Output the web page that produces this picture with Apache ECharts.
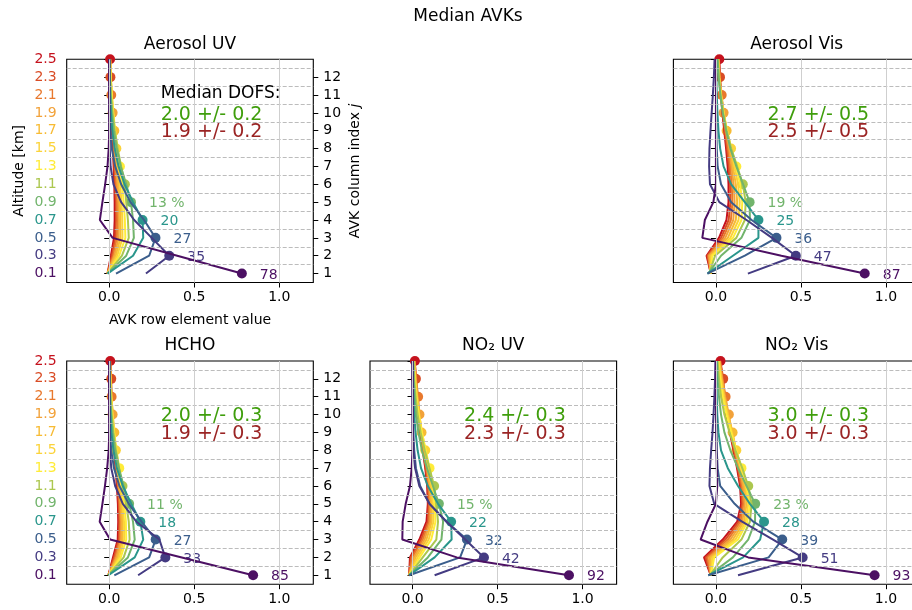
<!DOCTYPE html>
<html><head><meta charset="utf-8">
<script src="https://cdn.jsdelivr.net/npm/echarts@6/dist/echarts.min.js"></script>
<style>html,body{margin:0;padding:0;background:#fff}#c{width:912px;height:610px}</style>
</head><body><div id="c"></div>
<script>
// ---------- data ----------
const altitudes = [0.1,0.3,0.5,0.7,0.9,1.1,1.3,1.5,1.7,1.9,2.1,2.3,2.5];
const layerBounds = [0.2,0.4,0.6,0.8,1.0,1.2,1.4,1.6,1.8,2.0,2.2,2.4];
const xTicks = [0, 0.5, 1.0];
const columnIndexLabels = ['1','2','3','4','5','6','7','8','9','10','11','12'];
const rowColors = ['#4c1063','#443b82','#3b5e8c','#2a968c','#72b46c','#acc74f','#ffec38','#fbd33a','#f7bb34','#f2a23a','#e8782d','#d94c25','#c5121d'];

// AVK rows: each row = values at altitudes 0.1 ... 2.5 km
const aerosolUV = [
 [0.78, 0.40, 0.02, -0.055, -0.04, -0.024, -0.01, -0.003, 0, 0, 0, 0, 0],
 [0.216, 0.353, 0.25, 0.147, 0.07, 0.025, 0.008, 0.003, 0.001, 0, 0, 0, 0],
 [0.04, 0.235, 0.272, 0.205, 0.125, 0.07, 0.035, 0.015, 0.006, 0.003, 0.001, 0, 0],
 [-0.01, 0.14, 0.2, 0.196, 0.14, 0.09, 0.055, 0.032, 0.018, 0.01, 0.005, 0.002, 0.001],
 [-0.01, 0.1, 0.145, 0.14, 0.128, 0.1, 0.068, 0.044, 0.027, 0.015, 0.008, 0.004, 0.002],
 [-0.01, 0.075, 0.115, 0.11, 0.1, 0.092, 0.07, 0.05, 0.033, 0.02, 0.011, 0.006, 0.003],
 [-0.01, 0.058, 0.095, 0.092, 0.085, 0.075, 0.063, 0.048, 0.035, 0.024, 0.015, 0.009, 0.005],
 [-0.01, 0.047, 0.078, 0.077, 0.072, 0.064, 0.054, 0.042, 0.032, 0.023, 0.015, 0.009, 0.005],
 [-0.01, 0.038, 0.066, 0.066, 0.062, 0.055, 0.047, 0.038, 0.03, 0.022, 0.015, 0.009, 0.005],
 [-0.01, 0.03, 0.055, 0.057, 0.054, 0.048, 0.041, 0.034, 0.027, 0.02, 0.014, 0.009, 0.005],
 [-0.01, 0.023, 0.045, 0.048, 0.046, 0.041, 0.035, 0.029, 0.023, 0.018, 0.012, 0.008, 0.005],
 [-0.01, 0.016, 0.036, 0.04, 0.039, 0.035, 0.03, 0.025, 0.02, 0.015, 0.011, 0.007, 0.005],
 [-0.01, 0.01, 0.028, 0.032, 0.032, 0.03, 0.026, 0.021, 0.017, 0.013, 0.009, 0.006, 0.005]
];
const aerosolVis = [
 [0.875, 0.385, -0.08, -0.065, -0.015, 0, 0, 0, 0, 0, 0, 0, 0],
 [0.188, 0.47, 0.33, 0.18, 0.02, -0.035, -0.04, -0.038, -0.032, -0.025, -0.018, -0.012, -0.008],
 [-0.05, 0.17, 0.356, 0.21, 0.09, 0.03, 0.01, 0.005, 0.003, 0.002, 0.001, 0, 0],
 [-0.05, 0.1, 0.25, 0.25, 0.17, 0.09, 0.045, 0.025, 0.015, 0.009, 0.005, 0.003, 0.002],
 [-0.045, 0.03, 0.15, 0.2, 0.198, 0.16, 0.12, 0.085, 0.06, 0.04, 0.026, 0.016, 0.01],
 [-0.04, -0.005, 0.12, 0.17, 0.175, 0.158, 0.125, 0.09, 0.064, 0.043, 0.028, 0.017, 0.011],
 [-0.035, -0.02, 0.1, 0.15, 0.155, 0.142, 0.12, 0.09, 0.066, 0.045, 0.029, 0.018, 0.012],
 [-0.03, -0.027, 0.085, 0.133, 0.14, 0.13, 0.11, 0.089, 0.065, 0.045, 0.03, 0.019, 0.013],
 [-0.03, -0.034, 0.07, 0.117, 0.125, 0.117, 0.1, 0.085, 0.063, 0.045, 0.03, 0.02, 0.014],
 [-0.03, -0.04, 0.055, 0.102, 0.11, 0.104, 0.092, 0.078, 0.06, 0.045, 0.032, 0.021, 0.015],
 [-0.03, -0.045, 0.042, 0.088, 0.097, 0.093, 0.084, 0.071, 0.056, 0.043, 0.034, 0.022, 0.016],
 [-0.03, -0.05, 0.03, 0.075, 0.085, 0.083, 0.076, 0.065, 0.052, 0.04, 0.03, 0.024, 0.018],
 [-0.03, -0.055, 0.018, 0.062, 0.074, 0.074, 0.069, 0.06, 0.049, 0.038, 0.029, 0.023, 0.02]
];
const hcho = [
 [0.846, 0.427, 0.005, -0.056, -0.04, -0.025, -0.012, -0.003, 0, 0, 0, 0, 0],
 [0.17, 0.33, 0.295, 0.16, 0.08, 0.035, 0.012, 0.004, 0.001, 0, 0, 0, 0],
 [0.03, 0.235, 0.273, 0.19, 0.115, 0.06, 0.028, 0.012, 0.005, 0.002, 0.001, 0, 0],
 [-0.005, 0.15, 0.2, 0.183, 0.13, 0.08, 0.045, 0.025, 0.013, 0.007, 0.004, 0.002, 0.001],
 [-0.005, 0.11, 0.15, 0.14, 0.117, 0.085, 0.057, 0.035, 0.02, 0.011, 0.006, 0.003, 0.002],
 [-0.005, 0.085, 0.12, 0.115, 0.1, 0.078, 0.058, 0.04, 0.025, 0.015, 0.009, 0.005, 0.003],
 [-0.005, 0.068, 0.1, 0.098, 0.088, 0.072, 0.059, 0.043, 0.029, 0.018, 0.011, 0.006, 0.003],
 [-0.005, 0.058, 0.088, 0.087, 0.079, 0.066, 0.052, 0.039, 0.028, 0.019, 0.012, 0.007, 0.004],
 [-0.005, 0.05, 0.078, 0.078, 0.072, 0.061, 0.049, 0.038, 0.03, 0.021, 0.013, 0.008, 0.004],
 [-0.005, 0.042, 0.07, 0.071, 0.066, 0.057, 0.046, 0.035, 0.026, 0.02, 0.014, 0.008, 0.005],
 [-0.005, 0.035, 0.063, 0.065, 0.061, 0.053, 0.043, 0.033, 0.024, 0.018, 0.014, 0.009, 0.005],
 [-0.005, 0.028, 0.056, 0.059, 0.056, 0.049, 0.04, 0.031, 0.023, 0.017, 0.013, 0.012, 0.006],
 [-0.005, 0.022, 0.05, 0.053, 0.051, 0.045, 0.037, 0.029, 0.021, 0.015, 0.011, 0.008, 0.006]
];
const no2UV = [
 [0.92, 0.26, -0.06, -0.058, -0.04, -0.015, -0.005, 0, 0, 0, 0, 0, 0],
 [0.13, 0.42, 0.31, 0.2, 0.1, 0.04, 0.015, 0.005, 0.002, 0.001, 0, 0, 0],
 [-0.02, 0.28, 0.32, 0.2, 0.1, 0.045, 0.02, 0.01, 0.005, 0.003, 0.002, 0.001, 0],
 [-0.02, 0.13, 0.23, 0.227, 0.15, 0.09, 0.05, 0.03, 0.018, 0.01, 0.006, 0.003, 0.002],
 [-0.02, 0.09, 0.17, 0.18, 0.155, 0.12, 0.085, 0.055, 0.035, 0.02, 0.012, 0.007, 0.004],
 [-0.02, 0.06, 0.14, 0.15, 0.14, 0.127, 0.1, 0.072, 0.048, 0.03, 0.018, 0.01, 0.006],
 [-0.02, 0.042, 0.11, 0.135, 0.13, 0.12, 0.1, 0.078, 0.055, 0.036, 0.022, 0.013, 0.007],
 [-0.02, 0.03, 0.095, 0.123, 0.12, 0.112, 0.095, 0.075, 0.056, 0.039, 0.025, 0.015, 0.008],
 [-0.02, 0.018, 0.082, 0.113, 0.112, 0.105, 0.09, 0.071, 0.053, 0.04, 0.027, 0.017, 0.009],
 [-0.02, 0.008, 0.07, 0.105, 0.106, 0.1, 0.086, 0.068, 0.051, 0.041, 0.029, 0.019, 0.011],
 [-0.02, -0.002, 0.06, 0.098, 0.1, 0.095, 0.082, 0.065, 0.049, 0.038, 0.033, 0.021, 0.012],
 [-0.02, -0.01, 0.05, 0.09, 0.095, 0.09, 0.078, 0.062, 0.047, 0.035, 0.026, 0.02, 0.013],
 [-0.02, -0.015, 0.04, 0.082, 0.09, 0.086, 0.075, 0.06, 0.045, 0.033, 0.024, 0.017, 0.014]
];
const no2Vis = [
 [0.933, 0.19, -0.09, -0.05, 0.0, 0.008, 0.005, 0.003, 0.002, 0.001, 0, 0, 0],
 [0.13, 0.51, 0.336, 0.154, -0.01, -0.038, -0.035, -0.028, -0.02, -0.014, -0.009, -0.005, -0.003],
 [-0.045, 0.31, 0.39, 0.22, 0.11, 0.025, 0.01, 0.005, 0.003, 0.002, 0.001, 0, 0],
 [-0.045, 0.16, 0.26, 0.283, 0.2, 0.13, 0.07, 0.03, 0.015, 0.008, 0.005, 0.003, 0.002],
 [-0.04, 0.1, 0.19, 0.23, 0.231, 0.18, 0.13, 0.085, 0.05, 0.03, 0.018, 0.01, 0.006],
 [-0.035, 0.04, 0.15, 0.2, 0.21, 0.19, 0.155, 0.115, 0.08, 0.05, 0.03, 0.018, 0.01],
 [-0.03, -0.01, 0.13, 0.185, 0.2, 0.18, 0.15, 0.12, 0.09, 0.062, 0.04, 0.025, 0.014],
 [-0.03, -0.02, 0.115, 0.175, 0.19, 0.175, 0.148, 0.12, 0.094, 0.068, 0.046, 0.029, 0.017],
 [-0.03, -0.03, 0.1, 0.165, 0.18, 0.168, 0.143, 0.118, 0.098, 0.072, 0.05, 0.033, 0.02],
 [-0.03, -0.04, 0.085, 0.155, 0.17, 0.16, 0.138, 0.114, 0.092, 0.076, 0.054, 0.036, 0.022],
 [-0.03, -0.05, 0.07, 0.145, 0.162, 0.153, 0.133, 0.11, 0.088, 0.068, 0.057, 0.039, 0.024],
 [-0.03, -0.06, 0.055, 0.135, 0.155, 0.147, 0.128, 0.106, 0.085, 0.065, 0.05, 0.043, 0.026],
 [-0.03, -0.07, 0.04, 0.125, 0.148, 0.142, 0.124, 0.103, 0.082, 0.062, 0.047, 0.036, 0.027]
];

const pctAerosolUV = ['78','35','27','20','13 %'];
const pctAerosolVis = ['87','47','36','25','19 %'];
const pctHCHO = ['85','33','27','18','11 %'];
const pctNO2UV = ['92','42','32','22','15 %'];
const pctNO2Vis = ['93','51','39','28','23 %'];

const dofsAerosolUV = ['2.0 +/- 0.2','1.9 +/- 0.2'];
const dofsAerosolVis = ['2.7 +/- 0.5','2.5 +/- 0.5'];
const dofsHCHO = ['2.0 +/- 0.3','1.9 +/- 0.3'];
const dofsNO2UV = ['2.4 +/- 0.3','2.3 +/- 0.3'];
const dofsNO2Vis = ['3.0 +/- 0.3','3.0 +/- 0.3'];

// ---------- layout ----------
const F = 'DejaVu Sans';
const colLeft = [66.7, 370, 673.4];
const rowTop = [59.3, 361];
const W = 246.6, H = 223.2;
const greenC = '#3f9e0c', redC = '#9a2424';

const panels = [
  {title:'Aerosol UV', data:aerosolUV, pct:pctAerosolUV, dofs:dofsAerosolUV, col:0, row:0, leftLabels:true, right:true, median:true},
  {title:'Aerosol Vis', data:aerosolVis, pct:pctAerosolVis, dofs:dofsAerosolVis, col:2, row:0, leftLabels:false, right:false},
  {title:'HCHO', data:hcho, pct:pctHCHO, dofs:dofsHCHO, col:0, row:1, leftLabels:true, right:true},
  {title:'NO₂ UV', data:no2UV, pct:pctNO2UV, dofs:dofsNO2UV, col:1, row:1, leftLabels:false, right:false},
  {title:'NO₂ Vis', data:no2Vis, pct:pctNO2Vis, dofs:dofsNO2Vis, col:2, row:1, leftLabels:false, right:false}
];

const altIdx = v => Math.round((Number(v) - 0.1) / 0.2);
const grids = [], xAxes = [], yAxes = [], series = [], graphics = [];

panels.forEach((p, i) => {
  const left = colLeft[p.col], top = rowTop[p.row];
  grids.push({left, top, width:W, height:H, show:true, borderColor:'#000', borderWidth:1.1,
    backgroundColor:'rgba(0,0,0,0)', containLabel:false, outerBoundsMode:'none'});
  xAxes.push({gridIndex:i, type:'value', min:-0.25, max:1.2,
    axisLine:{show:false}, splitLine:{show:false},
    axisTick:{show:true, inside:false, length:5, customValues:xTicks, lineStyle:{color:'#000', width:1}},
    axisLabel:{show:true, customValues:xTicks, formatter:v=>Number(v).toFixed(1), color:'#000', fontSize:14, fontFamily:F, margin:8}});
  const yi = yAxes.length;
  yAxes.push({gridIndex:i, type:'value', min:0, max:2.5, position:'left',
    axisLine:{show:false}, splitLine:{show:false},
    axisTick:{show:true, inside:false, length:5, customValues:altitudes, lineStyle:{color:'#000', width:1}},
    axisLabel:{show:p.leftLabels, customValues:altitudes, formatter:v=>Number(v).toFixed(1),
      color:v=>rowColors[altIdx(v)], fontSize:14, fontFamily:F, margin:10}});
  if (p.right) {
    yAxes.push({gridIndex:i, type:'value', min:0, max:2.5, position:'right',
      axisLine:{show:false}, splitLine:{show:false},
      axisTick:{show:true, inside:false, length:5, customValues:altitudes.slice(0,12), lineStyle:{color:'#000', width:1}},
      axisLabel:{show:true, customValues:altitudes.slice(0,12), formatter:v=>columnIndexLabels[altIdx(v)],
        color:'#000', fontSize:14, fontFamily:F, margin:10}});
  }
  // grid lines
  series.push({type:'line', xAxisIndex:i, yAxisIndex:yi, data:[], silent:true, z:1, animation:false,
    markLine:{silent:true, symbol:['none','none'], label:{show:false}, animation:false,
      data:[
        ...layerBounds.map(b=>({yAxis:b, lineStyle:{type:[4,2], color:'#b4b4b4', width:0.9}})),
        ...xTicks.map(t=>({xAxis:t, lineStyle:{type:'solid', color:'#cfcfcf', width:1}}))
      ]}});
  // diagonal dots
  series.push({type:'scatter', xAxisIndex:i, yAxisIndex:yi, z:2, symbolSize:10, silent:true, animation:false,
    itemStyle:{opacity:1},
    data: altitudes.map((a,k)=>({value:[p.data[k][k], a], itemStyle:{color:rowColors[k], opacity:1},
      label: k < p.pct.length ? {show:true, formatter:p.pct[k], position:'right', distance:13,
        color:rowColors[k], opacity:1, fontSize:14, fontFamily:F, offset:[0,1.5]} : {show:false}}))});
  // AVK rows (top rows first so low rows lie on top)
  for (let k = p.data.length - 1; k >= 0; k--) {
    series.push({type:'line', xAxisIndex:i, yAxisIndex:yi, z:3, symbol:'none', showSymbol:false, silent:true,
      animation:false, lineStyle:{width:2, color:rowColors[k], opacity:1}, itemStyle:{color:rowColors[k]},
      data: p.data[k].map((v,j)=>[v, altitudes[j]])});
  }
  // DOFS text
  const txt = [];
  if (p.median) txt.push({value:[0.3, 2.12], label:{show:true, formatter:'Median DOFS:', color:'#000', fontSize:17}});
  txt.push({value:[0.3, 1.88], label:{show:true, formatter:p.dofs[0], color:greenC, fontSize:19}});
  txt.push({value:[0.3, 1.685], label:{show:true, formatter:p.dofs[1], color:redC, fontSize:19}});
  series.push({type:'scatter', xAxisIndex:i, yAxisIndex:yi, z:5, symbolSize:1, silent:true, animation:false,
    itemStyle:{color:'#fff', opacity:1, borderWidth:0},
    label:{position:'right', distance:0, fontFamily:F, opacity:1},
    data: txt});
  // panel title
  graphics.push({type:'text', x:left + W/2, y:top - 15, style:{text:p.title, font:'17px "DejaVu Sans"', fill:'#000', textAlign:'center', textVerticalAlign:'middle'}});
});

graphics.push({type:'text', x:468, y:17, style:{text:'Median AVKs', font:'17px "DejaVu Sans"', fill:'#000', textAlign:'center', textVerticalAlign:'middle'}});
graphics.push({type:'text', x:19, y:rowTop[0] + H/2, rotation:Math.PI/2, style:{text:'Altitude [km]', font:'14px "DejaVu Sans"', fill:'#000', textAlign:'center', textVerticalAlign:'middle'}});
graphics.push({type:'text', x:colLeft[0] + W/2, y:320, style:{text:'AVK row element value', font:'14px "DejaVu Sans"', fill:'#000', textAlign:'center', textVerticalAlign:'middle'}});
graphics.push({type:'text', x:355, y:rowTop[0] + H/2, rotation:Math.PI/2, style:{text:'AVK column index {i|j}', font:'14px "DejaVu Sans"', fill:'#000', textAlign:'center', textVerticalAlign:'middle',
  rich:{i:{fontStyle:'italic', fontSize:14, fontFamily:F, fill:'#000'}}}});

const chart = echarts.init(document.getElementById('c'), null, {renderer:'canvas'});
chart.setOption({
  animation:false,
  backgroundColor:'#fff',
  textStyle:{fontFamily:F},
  grid:grids, xAxis:xAxes, yAxis:yAxes, series, graphic:graphics
});
</script></body></html>
